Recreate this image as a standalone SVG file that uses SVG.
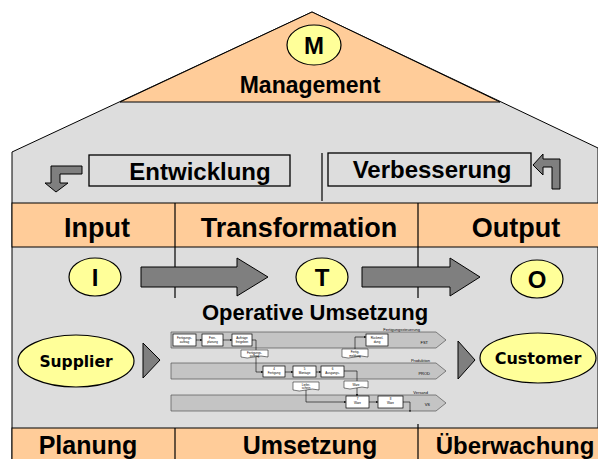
<svg xmlns="http://www.w3.org/2000/svg" width="598" height="459" viewBox="0 0 598 459">
<style>
.lbl{font-family:"Liberation Sans",Arial,sans-serif;font-weight:bold;fill:#000;text-anchor:middle}
.oval{font-family:"DejaVu Sans",Verdana,sans-serif;font-weight:bold;fill:#000;text-anchor:middle}
.yel{fill:#FFFF99;stroke:#000;stroke-width:1.2}
.org{fill:#FFCC99;stroke:#000;stroke-width:1}
.gry{fill:#DDDDDD;stroke:#000;stroke-width:1}
.box{fill:#DDDDDD;stroke:#000;stroke-width:1.3}
.bigarrow{fill:#7F7F7F;stroke:#000;stroke-width:1}
.div{stroke:#000;stroke-width:1.2;fill:none}
.band{fill:#C4C4C4;stroke:#555;stroke-width:0.7}
.pbox{fill:#FFF;stroke:#000;stroke-width:0.7}
.doc{fill:#FFF;stroke:#000;stroke-width:0.5}
.tiny{font-family:"Liberation Sans",Arial,sans-serif;font-size:3px;fill:#000;text-anchor:middle}
.tinyl{font-family:"Liberation Sans",Arial,sans-serif;font-size:4px;fill:#000;text-anchor:end}
.conn{stroke:#000;stroke-width:0.6;fill:none}
</style>
<defs>
<marker id="ah" viewBox="0 0 6 6" refX="6" refY="3" markerWidth="4" markerHeight="4" orient="auto"><path d="M0,0 L6,3 L0,6 z" fill="#000"/></marker>
</defs>

<g id="house">
<polygon class="gry" points="12,459 12,152 312,12 598,148 598,459"/>
<polygon class="org" points="312,12 120,102 500,102"/>
<rect class="org" x="12" y="203" width="590" height="44"/>
<rect class="org" x="12" y="428" width="590" height="40"/>
<line class="div" x1="322" y1="153" x2="322" y2="201"/>
<line class="div" x1="175" y1="203" x2="175" y2="298"/>
<line class="div" x1="418" y1="203" x2="418" y2="298"/>
<line class="div" x1="175" y1="428" x2="175" y2="459"/>
<line class="div" x1="418" y1="424" x2="418" y2="459"/>
</g>

<g id="management">
<ellipse class="yel" cx="314" cy="45" rx="27" ry="20"/>
<text class="lbl" x="314" y="54" font-size="24">M</text>
<text class="lbl" x="310" y="93" font-size="23">Management</text>
</g>

<g id="entwicklung">
<rect class="box" x="89" y="155" width="201" height="31"/>
<text class="lbl" x="200" y="180" font-size="24">Entwicklung</text>
<path class="bigarrow" d="M82,166 L82,174 L60,174 L60,183 L68,183 L56,192 L45,183 L51,183 L51,166 Z"/>
</g>

<g id="verbesserung">
<rect class="box" x="328" y="153" width="203" height="33"/>
<text class="lbl" x="432" y="178" font-size="24">Verbesserung</text>
<path class="bigarrow" d="M560,189 L552,189 L552,167 L543,167 L543,175 L533,165 L543,154 L543,159 L560,159 Z"/>
</g>

<g id="headers">
<text class="lbl" x="97" y="237" font-size="27">Input</text>
<text class="lbl" x="299" y="237" font-size="27">Transformation</text>
<text class="lbl" x="516" y="237" font-size="27">Output</text>
</g>

<g id="node-I"><ellipse class="yel" cx="95" cy="277" rx="26" ry="19"/><text class="lbl" x="95" y="286" font-size="24">I</text></g>
<g id="node-T"><ellipse class="yel" cx="322" cy="277" rx="26" ry="19"/><text class="lbl" x="322" y="286" font-size="24">T</text></g>
<g id="node-O"><ellipse class="yel" cx="537" cy="279" rx="26" ry="19"/><text class="lbl" x="537" y="288" font-size="24">O</text></g>

<g id="connectors">
<path class="bigarrow" d="M141,267 L237,267 L237,258 L268,277 L237,296 L237,287 L141,287 Z"/>
<path class="bigarrow" d="M362,267 L450,267 L450,258 L480,277 L450,296 L450,287 L362,287 Z"/>
<path class="bigarrow" d="M143,343 L160,360 L143,378 Z"/>
<path class="bigarrow" d="M458,341 L475,360 L458,379 Z"/>
</g>

<g id="operative">
<text class="lbl" x="315" y="320" font-size="22">Operative Umsetzung</text>
</g>

<g id="supplier">
<ellipse class="yel" cx="76" cy="361" rx="58" ry="26"/>
<text class="oval" x="76" y="367" font-size="15.5">Supplier</text>
</g>
<g id="customer">
<ellipse class="yel" cx="538" cy="358" rx="58" ry="25"/>
<text class="oval" x="538" y="364" font-size="16">Customer</text>
</g>

<g id="footer">
<text class="lbl" x="88" y="454" font-size="25">Planung</text>
<text class="lbl" x="310" y="454" font-size="25">Umsetzung</text>
<text class="lbl" x="515" y="454" font-size="24">Überwachung</text>
</g>

<g id="process-chart">
<polygon class="band" points="171,332 436,332 446,340 436,348 171,348"/>
<polygon class="band" points="171,363 436,363 446,371 436,379 171,379"/>
<polygon class="band" points="171,395 436,395 446,403 436,411 171,411"/>
<text class="tinyl" x="420" y="331">Fertigungssteuerung</text>
<text class="tinyl" x="430" y="362">Produktion</text>
<text class="tinyl" x="428" y="394">Versand</text>
<text class="tinyl" x="428" y="344">FST</text>
<text class="tinyl" x="430" y="375">PROD</text>
<text class="tinyl" x="430" y="406">VS</text>

<rect class="pbox" x="173" y="334" width="23" height="12"/>
<text class="tiny" x="184.5" y="339">Fertigungs-</text><text class="tiny" x="184.5" y="343">auftrag</text>
<rect class="pbox" x="202" y="334" width="21" height="12"/>
<text class="tiny" x="212.5" y="339">Fein-</text><text class="tiny" x="212.5" y="343">planung</text>
<rect class="pbox" x="232" y="334" width="20" height="12"/>
<text class="tiny" x="242" y="339">Aufträge</text><text class="tiny" x="242" y="343">freigeben</text>
<rect class="pbox" x="366" y="334" width="22" height="12"/>
<text class="tiny" x="377" y="339">Rückmel-</text><text class="tiny" x="377" y="343">dung</text>

<path class="doc" d="M241,350 L268,350 L268,357 Q261,355 254,357 Q247,359 241,357 Z"/>
<text class="tiny" x="254.5" y="354">Fertigungs-</text><text class="tiny" x="254.5" y="357">auftrag</text>
<path class="doc" d="M342,349 L368,349 L368,357 Q361,355 355,357 Q348,359 342,357 Z"/>
<text class="tiny" x="355" y="353">Fertig-</text><text class="tiny" x="355" y="356.5">meldung</text>

<rect class="pbox" x="263" y="366" width="22" height="11"/>
<text class="tiny" x="274" y="370">4</text><text class="tiny" x="274" y="374">Fertigung</text>
<rect class="pbox" x="293" y="366" width="23" height="11"/>
<text class="tiny" x="304.5" y="370">5</text><text class="tiny" x="304.5" y="374">Montage</text>
<rect class="pbox" x="321" y="366" width="23" height="11"/>
<text class="tiny" x="332.5" y="370">6</text><text class="tiny" x="332.5" y="374">Ausgangs-</text>

<path class="doc" d="M344,381 L368,381 L368,388 Q362,386 356,388 Q350,390 344,388 Z"/>
<text class="tiny" x="356" y="386">Ware</text>
<path class="doc" d="M293,382 L319,382 L319,390 Q312,388 306,390 Q299,392 293,390 Z"/>
<text class="tiny" x="306" y="385.5">Liefer-</text><text class="tiny" x="306" y="389">schein</text>

<rect class="pbox" x="346" y="396" width="23" height="12"/>
<text class="tiny" x="357.5" y="400">7</text><text class="tiny" x="357.5" y="404">Ware</text>
<rect class="pbox" x="378" y="396" width="25" height="12"/>
<text class="tiny" x="390.5" y="400">8</text><text class="tiny" x="390.5" y="404">Ware</text>

<path class="conn" d="M196,340 L202,340" marker-end="url(#ah)"/>
<path class="conn" d="M223,340 L232,340" marker-end="url(#ah)"/>
<path class="conn" d="M252,340 L256,340 L256,350"/>
<path class="conn" d="M256,357 L256,372 L263,372" marker-end="url(#ah)"/>
<path class="conn" d="M285,372 L293,372" marker-end="url(#ah)"/>
<path class="conn" d="M316,372 L321,372" marker-end="url(#ah)"/>
<path class="conn" d="M344,371 L357,371 L357,381"/>
<path class="conn" d="M355,349 L355,337 L366,337" marker-end="url(#ah)"/>
<path class="conn" d="M357,388 L357,396" marker-end="url(#ah)"/>
<path class="conn" d="M306,390 L306,402 L346,402" marker-end="url(#ah)"/>
<path class="conn" d="M369,402 L378,402" marker-end="url(#ah)"/>
<path class="conn" d="M403,402 L410,402 L410,411"/>
<circle cx="410" cy="411" r="0.8" fill="#000"/>
</g>
</svg>
